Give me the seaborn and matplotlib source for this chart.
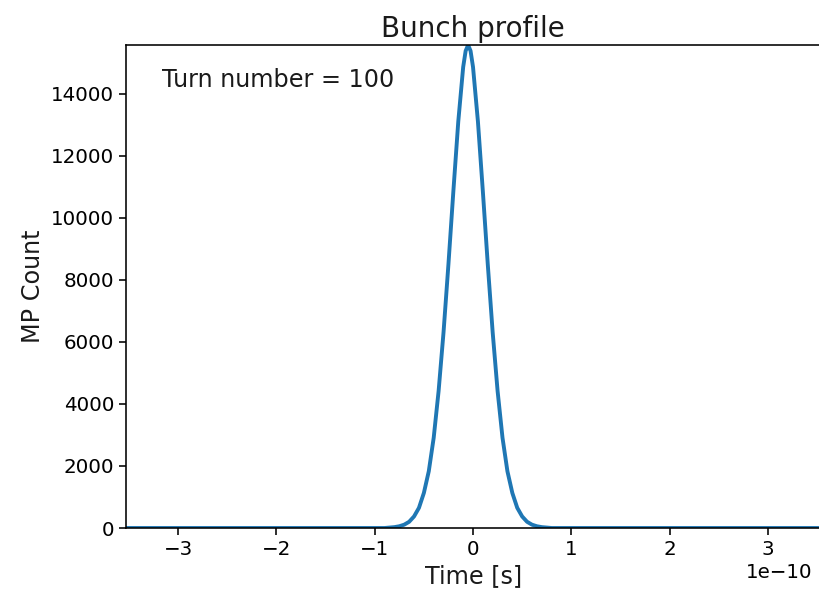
import matplotlib
matplotlib.use("Agg")
import matplotlib.pyplot as plt
import seaborn as sns
import pandas as pd

# Bunch profile at turn 100 (time in units of 1e-10 s, macro-particle counts)
time_1e10 = [-3.60, -0.90, -0.85, -0.80, -0.75, -0.70, -0.65, -0.60, -0.55, -0.50,
             -0.45, -0.40, -0.35, -0.30, -0.25, -0.20, -0.15, -0.10, -0.075, -0.05,
             -0.025, 0.00, 0.05, 0.10, 0.15, 0.20, 0.25, 0.30, 0.35, 0.40, 0.45,
             0.50, 0.55, 0.60, 0.65, 0.70, 0.75, 0.80, 3.60]
mp_count = [0, 0, 14, 28, 56, 107, 200, 372, 650, 1130,
            1830, 2910, 4420, 6310, 8510, 10860, 13110, 14870, 15390, 15580,
            15390, 14870, 13110, 10860, 8510, 6310, 4420, 2910, 1830, 1130, 650,
            372, 200, 107, 56, 28, 14, 0, 0]
x_ticks_1e10 = [-3, -2, -1, 0, 1, 2, 3]
turn_number = 100

df = pd.DataFrame({"time": [t * 1e-10 for t in time_1e10], "count": mp_count})

sns.set_style("ticks")
plt.rcParams.update({
    "axes.edgecolor": "black",
    "axes.linewidth": 1.15,
    "axes.labelcolor": "#1a1a1a",
    "text.color": "#1a1a1a",
    "xtick.color": "black",
    "ytick.color": "black",
    "xtick.major.width": 1.15,
    "ytick.major.width": 1.15,
    "xtick.major.size": 5,
    "ytick.major.size": 5,
    "font.family": ["DejaVu Sans"],
})

fig = plt.figure(figsize=(8.19, 5.92), dpi=100)
# the plot area runs slightly past the right edge of the canvas
ax = fig.add_axes([126 / 819, 1 - 528 / 592, (822 - 126) / 819, (528 - 45) / 592])

sns.lineplot(data=df, x="time", y="count", ax=ax, color="#1f77b4", linewidth=2.8)

ax.set_xlim(-3.53e-10, 3.55e-10)
ax.set_xticks([t * 1e-10 for t in x_ticks_1e10])
ax.set_ylim(0, max(mp_count))
ax.set_yticks(range(0, 14001, 2000))
ax.tick_params(labelsize=14.3)
offset = ax.xaxis.get_offset_text()
offset.set_fontsize(14.3)
offset.set_x(0.986)

ax.set_xlabel("Time [s]", fontsize=17.2)
ax.set_ylabel("MP Count", fontsize=17.2)
ax.set_title("Bunch profile", fontsize=20, x=(473 - 126) / (822 - 126))
ax.text(0.052, 0.927, f"Turn number = {turn_number}", transform=ax.transAxes,
        fontsize=17.2, va="center", ha="left")

fig.savefig("out.png", dpi=100)
